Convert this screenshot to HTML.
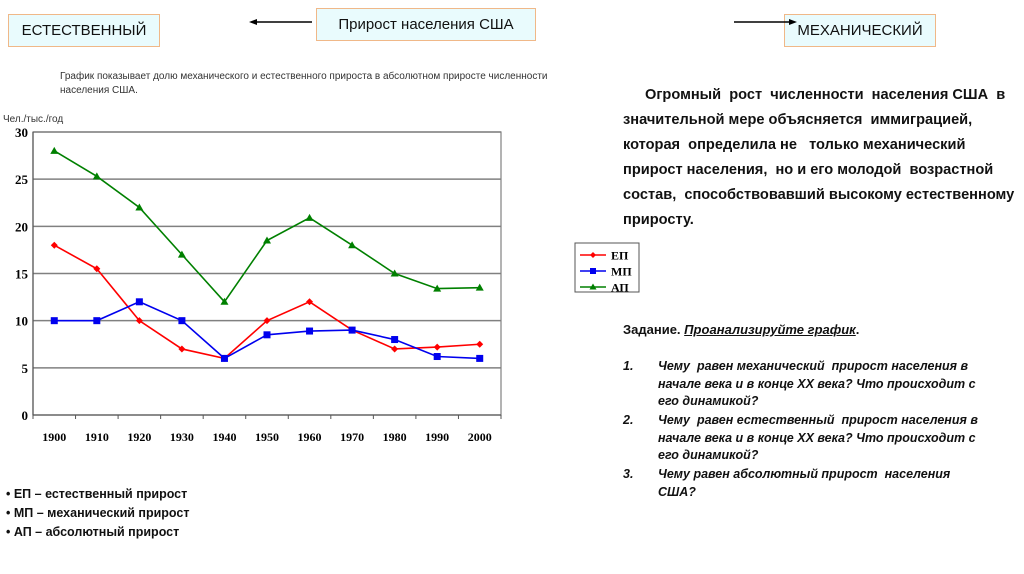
<!DOCTYPE html>
<html><head><meta charset="utf-8">
<style>
body{margin:0;width:1024px;height:574px;background:#fff;position:relative;overflow:hidden;font-family:"Liberation Sans","Noto Sans CJK SC",sans-serif;color:#111}
.abs{position:absolute;white-space:nowrap}
.box{position:absolute;background:#e9fbfd;border:1px solid #f0b888;font-size:15px;display:flex;align-items:center;justify-content:center;box-sizing:border-box}
.rt{position:absolute;left:623px;font-size:14.6px;font-weight:bold;line-height:25px;white-space:nowrap}
.q{position:absolute;font-size:12.5px;font-weight:bold;font-style:italic;line-height:17.5px}
</style></head><body>
<div class="box" style="left:8px;top:14px;width:152px;height:33px">ЕСТЕСТВЕННЫЙ</div>
<div class="box" style="left:316px;top:8px;width:220px;height:33px">Прирост населения США</div>
<div class="box" style="left:784px;top:14px;width:152px;height:33px">МЕХАНИЧЕСКИЙ</div>
<svg class="abs" style="left:0;top:0" width="1024" height="60">
<line x1="256" y1="22" x2="312" y2="22" stroke="#000" stroke-width="1.5"/><polygon points="249,22 257,19 257,25" fill="#000"/>
<line x1="734" y1="22" x2="790" y2="22" stroke="#000" stroke-width="1.5"/><polygon points="797,22 789,19 789,25" fill="#000"/>
</svg>
<div class="abs" style="left:60px;top:70px;font-size:10px;line-height:14px;color:#333">График показывает долю механического и естественного прироста в абсолютном приросте численности<br>населения США.</div>
<div class="abs" style="left:3px;top:114px;font-size:10px;color:#333">Чел./тыс./год</div>
<svg id="chart" class="abs" style="left:0;top:110px" width="650" height="340"></svg>
<div class="rt" style="top:83px"><span style="padding-left:22px"></span>Огромный&nbsp; рост&nbsp; численности&nbsp; населения США&nbsp; в<br>значительной мере объясняется&nbsp; иммиграцией,<br>которая&nbsp; определила не&nbsp;&nbsp; только механический<br>прирост населения,&nbsp; но и его молодой&nbsp; возрастной<br>состав,&nbsp; способствовавший высокому естественному<br>приросту.</div>
<div class="abs" style="left:623px;top:322px;font-size:13px;font-weight:bold">Задание. <i><u>Проанализируйте график</u></i>.</div>
<div class="q" style="left:623px;top:358px">1.</div>
<div class="q" style="left:658px;top:358px;width:340px">Чему&nbsp; равен механический&nbsp; прирост населения в начале века и в конце XX века? Что происходит с его динамикой?</div>
<div class="q" style="left:623px;top:412px">2.</div>
<div class="q" style="left:658px;top:412px;width:340px">Чему&nbsp; равен естественный&nbsp; прирост населения в начале века и в конце XX века? Что происходит с его динамикой?</div>
<div class="q" style="left:623px;top:466px">3.</div>
<div class="q" style="left:658px;top:466px;width:320px">Чему равен абсолютный прирост&nbsp; населения США?</div>
<div class="abs" style="left:6px;top:485px;font-size:12.5px;font-weight:bold;line-height:19px">• ЕП – естественный прирост<br>• МП – механический прирост<br>• АП – абсолютный прирост</div>
<script>
const categories=["1900","1910","1920","1930","1940","1950","1960","1970","1980","1990","2000"];
const epValues=[18,15.5,10,7,6,10,12,9,7,7.2,7.5];
const mpValues=[10,10,12,10,6,8.5,8.9,9,8,6.2,6];
const apValues=[28,25.3,22,17,12,18.5,20.9,18,15,13.4,13.5];
const yTicks=[0,5,10,15,20,25,30];
const NS="http://www.w3.org/2000/svg";
const svg=document.getElementById('chart');
const L=33,R=501,T=22,B=305,YMAX=30;
const bw=(R-L)/categories.length;
const xs=i=>L+bw*(i+0.5);
const ys=v=>B-(v/YMAX)*(B-T);
function mk(t,a,p){const e=document.createElementNS(NS,t);for(const k in a)e.setAttribute(k,a[k]);(p||svg).appendChild(e);return e;}
yTicks.forEach(v=>{
 if(v>0){const g=mk('line',{x1:L,x2:R,y1:ys(v),y2:ys(v),stroke:'#808080','stroke-width':1.5});
 
 }
 const t=mk('text',{x:L-5,y:ys(v)+5,'text-anchor':'end','font-family':'Liberation Serif,serif','font-weight':'bold','font-size':13});
 t.textContent=v;
 
 
});
mk('rect',{x:L,y:T,width:R-L,height:B-T,fill:'none',stroke:'#808080','stroke-width':1.2});
mk('line',{x1:L,x2:L,y1:T,y2:B,stroke:'#555','stroke-width':1.2});
mk('line',{x1:L,x2:R,y1:B,y2:B,stroke:'#555','stroke-width':1.2});
for(let i=0;i<=categories.length;i++)mk('line',{x1:L+bw*i,x2:L+bw*i,y1:B,y2:B+4,stroke:'#555'});
categories.forEach((c,i)=>{const t=mk('text',{x:xs(i),y:B+26,'text-anchor':'middle','font-family':'Liberation Serif,serif','font-weight':'bold','font-size':12});
 t.textContent=c;
 
 });
function series(vals,color,marker,name,dash){
 const pl=mk('polyline',{points:vals.map((v,i)=>xs(i)+','+ys(v)).join(' '),fill:'none',stroke:color,'stroke-width':1.6});
 if(dash)pl.setAttribute('stroke-dasharray',dash);
 
 
 vals.forEach((v,i)=>{let m;const x=xs(i),y=ys(v);
  if(marker==='d')m=mk('polygon',{points:`${x},${y-3.5} ${x+3.5},${y} ${x},${y+3.5} ${x-3.5},${y}`,fill:color});
  else if(marker==='s')m=mk('rect',{x:x-3.5,y:y-3.5,width:7,height:7,fill:color});
  else m=mk('polygon',{points:`${x},${y-4} ${x+4},${y+3} ${x-4},${y+3}`,fill:color});
  
  });
}
series(apValues,'#008000','t','ap');
series(epValues,'#ff0000','d','ep');
series(mpValues,'#0000ee','s','mp');
const lg=mk('g',{});


mk('rect',{x:575,y:133,width:64,height:49,fill:'#fff',stroke:'#555'},lg);
[['ЕП','#ff0000','d'],['МП','#0000ee','s'],['АП','#008000','t']].forEach((e,k)=>{
 const y=145+k*16;
 mk('line',{x1:580,x2:606,y1:y,y2:y,stroke:e[1],'stroke-width':1.6},lg);
 const x=593;
 if(e[2]==='d')mk('polygon',{points:`${x},${y-3} ${x+3},${y} ${x},${y+3} ${x-3},${y}`,fill:e[1]},lg);
 else if(e[2]==='s')mk('rect',{x:x-3,y:y-3,width:6,height:6,fill:e[1]},lg);
 else mk('polygon',{points:`${x},${y-3.5} ${x+3.5},${y+2.5} ${x-3.5},${y+2.5}`,fill:e[1]},lg);
 const t=mk('text',{x:611,y:y+4.5,'font-family':'Liberation Serif,serif','font-weight':'bold','font-size':12},lg);
 t.textContent=e[0];
 
 
});
</script>
</body></html>
